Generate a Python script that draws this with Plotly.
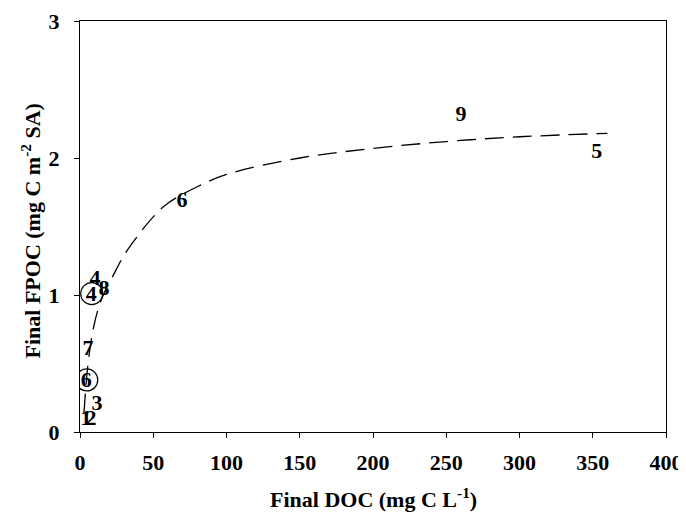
import plotly.graph_objects as go

# Fitted curve
curve_x = [2.7, 5.5, 9, 13, 18, 22.5, 30, 40, 50, 60, 80, 100, 150, 200, 250, 300, 360]
curve_y = [0.14, 0.50, 0.75, 0.92, 1.05, 1.14, 1.29, 1.44, 1.57, 1.67, 1.79, 1.88, 2.00, 2.07, 2.12, 2.155, 2.18]

# Point labels (numbers used as markers)
label_text = ["1", "2", "3", "4", "4", "5", "6", "6", "7", "8", "9"]
label_x = [4.1, 7.5, 11.6, 10.2, 7.6, 352.7, 69.6, 4.3, 5.5, 16.4, 260]
label_y = [0.09, 0.09, 0.20, 1.11, 1.0, 2.04, 1.68, 0.37, 0.60, 1.04, 2.31]

# Circled points
circle_x = [8.0, 4.6]
circle_y = [1.01, 0.38]

x_ticks = [0, 50, 100, 150, 200, 250, 300, 350, 400]
y_ticks = [0, 1, 2, 3]

FONT = "Liberation Serif"

fig = go.Figure()
fig.add_trace(go.Scatter(
    x=curve_x, y=curve_y, mode="lines", line_shape="spline",
    line=dict(color="black", width=1.3, dash="19px,9px"),
    hoverinfo="skip", showlegend=False))
fig.add_trace(go.Scatter(
    x=circle_x, y=circle_y, mode="markers",
    marker=dict(symbol="circle-open", size=22, color="black", line=dict(width=1.2, color="black")),
    showlegend=False))
fig.add_trace(go.Scatter(
    x=label_x, y=label_y, mode="text", text=label_text,
    textposition="middle center",
    textfont=dict(family=FONT, size=22, color="black", weight="bold"),
    showlegend=False))

axis_common = dict(
    showgrid=False, zeroline=False, showline=True, linecolor="black", linewidth=1.3,
    mirror=True, ticks="outside", ticklen=5, tickwidth=1.3, tickcolor="black",
    automargin=False,
    tickfont=dict(family=FONT, size=22, color="black", weight="bold"),
)

title_font = dict(family=FONT, size=22, color="black", weight="bold")

# page body adds an 8px offset, so figure is sized to fit the window
fig.update_layout(
    width=678, height=508,
    margin=dict(l=72, r=20, t=13, b=84),
    plot_bgcolor="white", paper_bgcolor="white",
    xaxis=dict(range=[0, 400], tickvals=x_ticks, ticklabelstandoff=5, **axis_common),
    yaxis=dict(range=[0, 3], tickvals=y_ticks, ticklabelstandoff=10, **axis_common),
    annotations=[
        dict(text="Final DOC (mg C L<sup>-1</sup>)", xref="paper", yref="paper",
             x=0.5, y=0, xanchor="center", yanchor="middle", yshift=-66,
             showarrow=False, font=title_font),
        dict(text="Final FPOC (mg C m<sup>-2</sup> SA)", xref="paper", yref="paper",
             x=0, y=0.5, xanchor="center", yanchor="middle", xshift=-50, yshift=-5,
             textangle=-90, showarrow=False, font=title_font),
    ],
)

fig.write_html("out.html")
